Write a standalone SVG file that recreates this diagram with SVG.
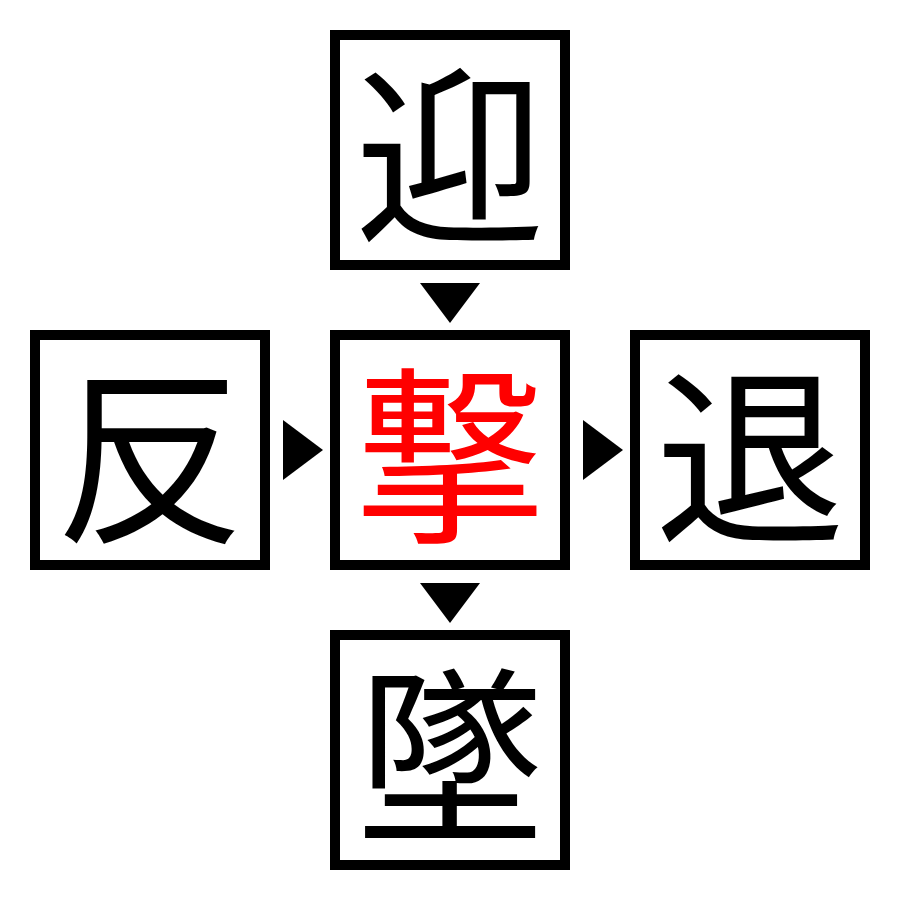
<svg xmlns="http://www.w3.org/2000/svg" width="900" height="900" viewBox="0 0 900 900">
<style>
.box{fill:#fff;stroke:#000;stroke-width:10}
.ch{font-family:"Noto Sans CJK JP","Noto Sans CJK SC",sans-serif;font-size:190px;text-anchor:middle;dominant-baseline:central;fill:#000}
.red{fill:#f00}
.arr{fill:#000}
</style>
<rect width="900" height="900" fill="#fff"/>
<g id="top"><rect class="box" x="335" y="35" width="230" height="230"/><text class="ch" x="450" y="145">迎</text></g>
<g id="left"><rect class="box" x="35" y="335" width="230" height="230"/><text class="ch" x="150" y="445">反</text></g>
<g id="center"><rect class="box" x="335" y="335" width="230" height="230"/><text class="ch red" x="450" y="445">撃</text></g>
<g id="right"><rect class="box" x="635" y="335" width="230" height="230"/><text class="ch" x="750" y="445">退</text></g>
<g id="bottom"><rect class="box" x="335" y="635" width="230" height="230"/><text class="ch" x="450" y="745">墜</text></g>
<g id="connectors">
<polygon class="arr" points="420,283 480,283 450,323"/>
<polygon class="arr" points="283,420 283,480 323,450"/>
<polygon class="arr" points="583,420 583,480 623,450"/>
<polygon class="arr" points="420,583 480,583 450,623"/>
</g>
</svg>
